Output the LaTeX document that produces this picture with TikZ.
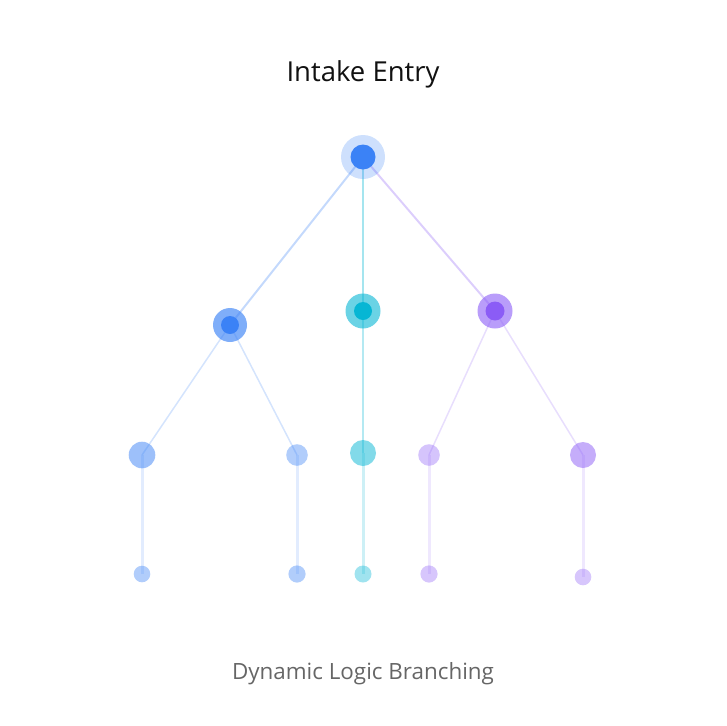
\documentclass[tikz,border=0pt]{standalone}
\usepackage{fontspec}
\setmainfont{Open Sans}
\definecolor{blu}{HTML}{3B82F6}
\definecolor{cyn}{HTML}{06B6D4}
\definecolor{prp}{HTML}{8B5CF6}
\definecolor{ink}{HTML}{111111}
\definecolor{mute}{HTML}{666666}
\tikzset{
  trunk/.style={line width=2pt},
  twig/.style={line width=1.5pt},
  stem/.style={line width=3pt},
}

\begin{document}
\begin{tikzpicture}[x=1pt,y=-1pt]
  \useasboundingbox (0,0) rectangle (726,726);
  \coordinate (R) at (363,157);
  % first level
  \coordinate (A) at (230,325);
  \coordinate (B) at (363,311);
  \coordinate (C) at (495,311);
  % second level
  \coordinate (A1) at (142,455);
  \coordinate (A2) at (297,455);
  \coordinate (B1) at (363,453);
  \coordinate (C1) at (429,455);
  \coordinate (C2) at (583,455);
  % leaves
  \coordinate (A1l) at (142,574);
  \coordinate (A2l) at (297,574);
  \coordinate (B1l) at (363,574);
  \coordinate (C1l) at (429,574);
  \coordinate (C2l) at (583,577);

  % connectors
  \draw[trunk, blu, opacity=.3] (R) -- (A);
  \draw[trunk, cyn, opacity=.36] (R) -- (B);
  \draw[trunk, prp, opacity=.3] (R) -- (C);
  \draw[twig, blu, opacity=.22] (A) -- (A1);
  \draw[twig, blu, opacity=.22] (A) -- (A2);
  \draw[twig, cyn, opacity=.3] (B) -- (B1);
  \draw[twig, prp, opacity=.2] (C) -- (C1);
  \draw[twig, prp, opacity=.2] (C) -- (C2);
  \draw[stem, blu, opacity=.15] (A1) -- (A1l);
  \draw[stem, blu, opacity=.15] (A2) -- (A2l);
  \draw[stem, cyn, opacity=.2] (B1) -- (B1l);
  \draw[stem, prp, opacity=.14] (C1) -- (C1l);
  \draw[stem, prp, opacity=.14] (C2) -- (C2l);

  % dots
  \fill[blu, opacity=.25] (R) circle (22);
  \fill[blu] (R) circle (12.5);
  \fill[blu, opacity=.65] (A) circle (17);
  \fill[blu] (A) circle (9);
  \fill[cyn, opacity=.6] (B) circle (17.5);
  \fill[cyn] (B) circle (9);
  \fill[prp, opacity=.6] (C) circle (17.5);
  \fill[prp] (C) circle (9.5);

  \fill[blu, opacity=.5] (A1) circle (13.3);
  \fill[blu, opacity=.4] (A2) circle (10.8);
  \fill[cyn, opacity=.5] (B1) circle (13);
  \fill[prp, opacity=.36] (C1) circle (10.8);
  \fill[prp, opacity=.5] (C2) circle (13);

  \fill[blu, opacity=.4] (A1l) circle (8.3);
  \fill[blu, opacity=.4] (A2l) circle (8.6);
  \fill[cyn, opacity=.38] (B1l) circle (8.5);
  \fill[prp, opacity=.35] (C1l) circle (8.6);
  \fill[prp, opacity=.35] (C2l) circle (8.3);

  \node[anchor=base, ink, font=\fontsize{27.5}{32}\selectfont] (title) at (363,81) {Intake Entry};
  \node[anchor=base, mute, font=\fontsize{22.4}{26}\selectfont] (caption) at (363,679) {Dynamic Logic Branching};
\end{tikzpicture}
\end{document}
